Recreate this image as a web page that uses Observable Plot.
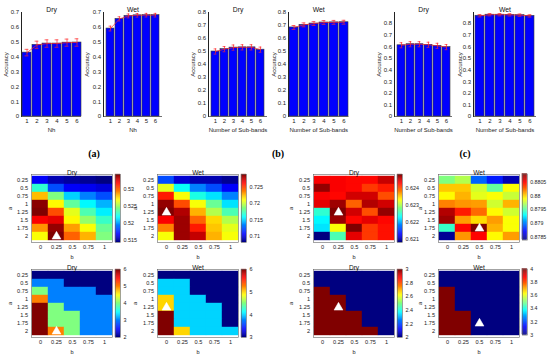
<!DOCTYPE html>
<html><head><meta charset="utf-8">
<script src="https://cdn.jsdelivr.net/npm/d3@7"></script>
<script src="https://cdn.jsdelivr.net/npm/@observablehq/plot@0.6"></script>
<style>
body{margin:0;background:#fff;}
#fig{position:relative;width:554px;height:359px;overflow:hidden;background:#fff;font-family:"Liberation Sans",Arial,sans-serif;}
.p{position:absolute;}
.p svg{overflow:visible;display:block;}
.lab{position:absolute;font-family:"Liberation Serif","Times New Roman",serif;font-weight:bold;font-size:10px;transform:translate(-50%,-50%);white-space:nowrap;}
</style></head><body><div id="fig"></div>
<script>
// ---------- data ----------
const barLabels = ["1", "2", "3", "4", "5", "6"];

const accDryA = [0.430, 0.482, 0.491, 0.491, 0.497, 0.498];
const errDryA = [0.022, 0.025, 0.025, 0.025, 0.024, 0.025];
const accWetA = [0.592, 0.657, 0.677, 0.681, 0.682, 0.682];
const errWetA = [0.016, 0.014, 0.013, 0.012, 0.012, 0.012];
const accDryB = [0.500, 0.518, 0.530, 0.532, 0.532, 0.514];
const errDryB = [0.020, 0.020, 0.020, 0.020, 0.020, 0.020];
const accWetB = [0.685, 0.705, 0.715, 0.723, 0.724, 0.725];
const errWetB = [0.015, 0.015, 0.015, 0.015, 0.015, 0.015];
const accDryC = [0.613, 0.622, 0.622, 0.617, 0.608, 0.597];
const errDryC = [0.022, 0.022, 0.022, 0.022, 0.022, 0.022];
const accWetC = [0.867, 0.876, 0.876, 0.875, 0.872, 0.866];
const errWetC = [0.010, 0.010, 0.010, 0.010, 0.010, 0.010];

const ticks07 = [0, 0.1, 0.2, 0.3, 0.4, 0.5, 0.6, 0.7];
const ticks08 = [0, 0.1, 0.2, 0.3, 0.4, 0.5, 0.6, 0.7, 0.8];

const aLevels = ["0.25", "0.5", "0.75", "1", "1.25", "1.5", "1.75", "2"];
const bLevels = ["0", "0.25", "0.5", "0.75", "1"];

// accuracy grids (rows = a, cols = b)
const gridDryA = [
  [0.5168, 0.5154, 0.5150, 0.5148, 0.5144],
  [0.5228, 0.5184, 0.5168, 0.5166, 0.5162],
  [0.5282, 0.5244, 0.5210, 0.5194, 0.5184],
  [0.5342, 0.5270, 0.5238, 0.5218, 0.5204],
  [0.5344, 0.5304, 0.5264, 0.5234, 0.5216],
  [0.5320, 0.5324, 0.5270, 0.5248, 0.5230],
  [0.5290, 0.5340, 0.5288, 0.5268, 0.5240],
  [0.5268, 0.5344, 0.5300, 0.5284, 0.5244]
];
const gridWetB = [
  [0.7123, 0.7099, 0.7092, 0.7092, 0.7086],
  [0.7206, 0.7161, 0.7134, 0.7123, 0.7107],
  [0.7258, 0.7210, 0.7165, 0.7154, 0.7134],
  [0.7285, 0.7248, 0.7210, 0.7181, 0.7154],
  [0.7289, 0.7279, 0.7227, 0.7196, 0.7175],
  [0.7264, 0.7283, 0.7243, 0.7219, 0.7196],
  [0.7237, 0.7283, 0.7258, 0.7223, 0.7206],
  [0.7210, 0.7283, 0.7275, 0.7227, 0.7210]
];
const gridDryC = [
  [0.62432, 0.62432, 0.62428, 0.62428, 0.62452],
  [0.62472, 0.62432, 0.62428, 0.62408, 0.62420],
  [0.62432, 0.62428, 0.62448, 0.62448, 0.62400],
  [0.62440, 0.62468, 0.62392, 0.62460, 0.62448],
  [0.62248, 0.62480, 0.62448, 0.62400, 0.62472],
  [0.62228, 0.62470, 0.62428, 0.62440, 0.62428],
  [0.62220, 0.62328, 0.62480, 0.62408, 0.62424],
  [0.62080, 0.62260, 0.62440, 0.62408, 0.62424]
];
const gridWetC = [
  [0.87960, 0.87972, 0.87893, 0.87876, 0.87852],
  [0.88003, 0.88003, 0.87979, 0.87953, 0.87989],
  [0.87991, 0.88008, 0.87984, 0.87989, 0.87977],
  [0.88020, 0.88015, 0.88013, 0.87979, 0.88008],
  [0.88068, 0.88044, 0.88025, 0.87991, 0.87979],
  [0.88073, 0.88013, 0.87998, 0.88013, 0.87989],
  [0.87943, 0.88049, 0.88080, 0.88008, 0.87989],
  [0.87845, 0.88015, 0.88049, 0.87991, 0.88013]
];
// optimal number of sub-bands grids
const bandsDryA = [
  [2, 2, 2, 2, 2],
  [3, 3, 2, 2, 2],
  [4, 3, 3, 3, 2],
  [5, 3, 3, 3, 3],
  [6, 4, 3, 3, 3],
  [6, 4, 4, 3, 3],
  [6, 4, 4, 3, 3],
  [6, 5, 4, 3, 3]
];
const bandsWetB = [
  [3, 3, 3, 3, 3],
  [4, 4, 3, 3, 3],
  [4, 4, 3, 3, 3],
  [5, 4, 4, 3, 3],
  [5, 4, 4, 4, 3],
  [6, 4, 4, 4, 3],
  [6, 4, 4, 4, 3],
  [6, 5, 4, 4, 4]
];
const bandsDryC = [
  [2, 2, 2, 2, 2],
  [2, 2, 2, 2, 2],
  [3, 2, 2, 2, 2],
  [3, 3, 2, 2, 2],
  [3, 3, 2, 2, 2],
  [3, 3, 3, 2, 2],
  [3, 3, 3, 2, 2],
  [3, 3, 3, 3, 2]
];
const bandsWetC = [
  [3, 3, 3, 3, 3],
  [3, 3, 3, 3, 3],
  [4, 3, 3, 3, 3],
  [4, 3, 3, 3, 3],
  [4, 3, 3, 3, 3],
  [4, 4, 3, 3, 3],
  [4, 4, 3, 3, 3],
  [4, 4, 3, 3, 3]
];
// best (a, b) markers
const bestDryA = ["2", "0.25"];
const bestWetB = ["1.25", "0"];
const bestDryC = ["1.25", "0.25"];
const bestWetC = ["1.75", "0.5"];

const cbDomDryA = [0.5144, 0.5344], cbTicksDryA = [0.515, 0.52, 0.525, 0.53];
const cbDomWetB = [0.7082, 0.7289], cbTicksWetB = [0.71, 0.715, 0.72, 0.725];
const cbDomDryC = [0.6208, 0.6248], cbTicksDryC = [0.621, 0.622, 0.623, 0.624];
const cbDomWetC = [0.8784, 0.8808], cbTicksWetC = [0.8785, 0.879, 0.8795, 0.88, 0.8805];
const cbDomB1 = [2, 6], cbTicksB1 = [2, 3, 4, 5, 6];
const cbDomB2 = [3, 6], cbTicksB2 = [3, 4, 5, 6];
const cbDomB3 = [2, 3], cbTicksB3 = [2, 2.2, 2.4, 2.6, 2.8, 3];
const cbDomB4 = [3, 4], cbTicksB4 = [3, 3.2, 3.4, 3.6, 3.8, 4];

// ---------- helpers ----------
const FONT = "Liberation Sans, Arial, sans-serif";
function jet(t) {
  const c = v => Math.round(255 * Math.max(0, Math.min(1, v)));
  return `rgb(${c(Math.min(4 * t - 1.5, -4 * t + 4.5))},${c(Math.min(4 * t - 0.5, -4 * t + 3.5))},${c(Math.min(4 * t + 0.5, -4 * t + 2.5))})`;
}
const fig = document.getElementById("fig");
function place(node, left, top) {
  const d = document.createElement("div");
  d.className = "p"; d.style.left = left + "px"; d.style.top = top + "px";
  d.appendChild(node); fig.appendChild(d);
}
function label(txt, x, y) {
  const d = document.createElement("div");
  d.className = "lab"; d.textContent = txt; d.style.left = x + "px"; d.style.top = y + "px";
  fig.appendChild(d);
}

function barChart({values, errors, yMax, yTicks, title, xLabel, frameLeft, plotWidth, yLabelOffset}) {
  const rows = values.map((v, i) => ({k: barLabels[i], v, e: errors[i]}));
  const mL = 21, mR = 3, mT = 12, mB = 19;
  const red = "#ff2a2a";
  const chart = Plot.plot({
    width: mL + plotWidth + mR, height: 135,
    marginLeft: mL, marginRight: mR, marginTop: mT, marginBottom: mB,
    style: {background: "transparent", fontFamily: FONT, fontSize: "6px", color: "#222"},
    x: {domain: barLabels, paddingInner: 0.13, paddingOuter: 0.05, tickSize: 0, tickPadding: 2,
        label: xLabel, labelAnchor: "center", labelOffset: 15, labelArrow: "none"},
    y: {domain: [0, yMax], ticks: yTicks, tickFormat: "~g", tickSize: 0, tickPadding: 2.5, line: true,
        label: "Accuracy", labelAnchor: "center", labelOffset: yLabelOffset, labelArrow: "none"},
    marks: [
      Plot.barY(rows, {x: "k", y: "v", fill: "#0000ff", stroke: "#3a3a3a", strokeWidth: 0.6}),
      Plot.ruleX(rows, {x: "k", y1: d => d.v - d.e, y2: d => d.v + d.e, stroke: red, strokeWidth: 0.7}),
      Plot.tickY(rows, {x: "k", y: d => d.v - d.e, stroke: red, strokeWidth: 0.7, inset: 2.6}),
      Plot.tickY(rows, {x: "k", y: d => d.v + d.e, stroke: red, strokeWidth: 0.7, inset: 2.6}),
      Plot.line(rows, {x: "k", y: "v", stroke: red, strokeWidth: 0.7}),
      Plot.ruleY([0], {stroke: "#333", strokeWidth: 0.7}),
      Plot.text([title], {text: d => d, frameAnchor: "top", dy: -5, fontSize: 6.8, fill: "#111"})
    ]
  });
  place(chart, frameLeft - mL, 0);
}

function heatmap({grid, domain, best, title, frameLeft, top, aOffset}) {
  const cells = [];
  aLevels.forEach((a, i) => bLevels.forEach((b, j) => cells.push({a, b, v: grid[i][j]})));
  const mL = 30, mR = 2, mT = 16, mB = 19, pw = 81;
  const chart = Plot.plot({
    width: mL + pw + mR, height: 103,
    marginLeft: mL, marginRight: mR, marginTop: mT, marginBottom: mB,
    style: {background: "transparent", fontFamily: FONT, fontSize: "5.6px", color: "#222"},
    x: {domain: bLevels, padding: 0, tickSize: 0, tickPadding: 2.5,
        label: "b", labelAnchor: "center", labelOffset: 16.5, labelArrow: "none"},
    y: {domain: aLevels, padding: 0, tickSize: 0, tickPadding: 3.5,
        label: "a", labelAnchor: "center", labelOffset: aOffset, labelArrow: "none"},
    color: {type: "linear", domain, interpolate: jet, clamp: true},
    marks: [
      Plot.cell(cells, {x: "b", y: "a", fill: "v", stroke: "v", strokeWidth: 0.4}),
      Plot.dot([best], {x: d => d[1], y: d => d[0], symbol: "triangle", fill: "white", stroke: "white", strokeWidth: 0.5, r: 3.3}),
      Plot.frame({stroke: "#666", strokeWidth: 0.6}),
      Plot.text([title], {text: d => d, frameAnchor: "top", dy: -4, fontSize: 6.6, fill: "#111"})
    ]
  });
  place(chart, frameLeft - mL, top);
}

function colorbar({domain, ticks, frameLeft, top}) {
  const [lo, hi] = domain, n = 64;
  const steps = d3.range(n).map(i => ({y1: lo + (hi - lo) * i / n, y2: lo + (hi - lo) * (i + 1) / n}));
  const mL = 2, mR = 28, mT = 16, mB = 19;
  const chart = Plot.plot({
    width: mL + 5 + mR, height: 103,
    marginLeft: mL, marginRight: mR, marginTop: mT, marginBottom: mB,
    style: {background: "transparent", fontFamily: FONT, fontSize: "5.4px", color: "#222"},
    x: {domain: [0, 1], axis: null},
    y: {domain, ticks, tickFormat: "~g", axis: "right", tickSize: 0, tickPadding: 3, label: null},
    color: {type: "linear", domain, interpolate: jet},
    marks: [
      Plot.rect(steps, {x1: d => 0, x2: d => 1, y1: "y1", y2: "y2", fill: d => (d.y1 + d.y2) / 2, stroke: d => (d.y1 + d.y2) / 2, strokeWidth: 0.3}),
      Plot.frame({stroke: "#666", strokeWidth: 0.6})
    ]
  });
  place(chart, frameLeft - mL, top);
}

// ---------- bar charts ----------
barChart({values: accDryA, errors: errDryA, yMax: 0.7, yTicks: ticks07, title: "Dry", xLabel: "Nh", frameLeft: 21, plotWidth: 60, yLabelOffset: 17.5});
barChart({values: accWetA, errors: errWetA, yMax: 0.7, yTicks: ticks07, title: "Wet", xLabel: "Nh", frameLeft: 103, plotWidth: 59, yLabelOffset: 18.5});
barChart({values: accDryB, errors: errDryB, yMax: 0.8, yTicks: ticks08, title: "Dry", xLabel: "Number of Sub-bands", frameLeft: 208, plotWidth: 59, yLabelOffset: 18});
barChart({values: accWetB, errors: errWetB, yMax: 0.8, yTicks: ticks08, title: "Wet", xLabel: "Number of Sub-bands", frameLeft: 287.5, plotWidth: 60.5, yLabelOffset: 16.5});
barChart({values: accDryC, errors: errDryC, yMax: 0.895, yTicks: ticks08, title: "Dry", xLabel: "Number of Sub-bands", frameLeft: 394, plotWidth: 58, yLabelOffset: 17.5});
barChart({values: accWetC, errors: errWetC, yMax: 0.895, yTicks: ticks08, title: "Wet", xLabel: "Number of Sub-bands", frameLeft: 473, plotWidth: 63, yLabelOffset: 16});

label("(a)", 94, 153);
label("(b)", 278, 153);
label("(c)", 465, 153);

// ---------- heatmaps ----------
const topRow = 158, botRow = 253;
heatmap({grid: gridDryA, domain: cbDomDryA, best: bestDryA, title: "Dry", frameLeft: 31, top: topRow, aOffset: 23});
colorbar({domain: cbDomDryA, ticks: cbTicksDryA, frameLeft: 115, top: topRow});
heatmap({grid: gridWetB, domain: cbDomWetB, best: bestWetB, title: "Wet", frameLeft: 157, top: topRow, aOffset: 24});
colorbar({domain: cbDomWetB, ticks: cbTicksWetB, frameLeft: 241, top: topRow});
heatmap({grid: gridDryC, domain: cbDomDryC, best: bestDryC, title: "Dry", frameLeft: 313, top: topRow, aOffset: 24});
colorbar({domain: cbDomDryC, ticks: cbTicksDryC, frameLeft: 397, top: topRow});
heatmap({grid: gridWetC, domain: cbDomWetC, best: bestWetC, title: "Wet", frameLeft: 438, top: topRow, aOffset: 20});
colorbar({domain: cbDomWetC, ticks: cbTicksWetC, frameLeft: 522, top: topRow});

heatmap({grid: bandsDryA, domain: cbDomB1, best: bestDryA, title: "Dry", frameLeft: 31, top: botRow, aOffset: 23});
colorbar({domain: cbDomB1, ticks: cbTicksB1, frameLeft: 115, top: botRow});
heatmap({grid: bandsWetB, domain: cbDomB2, best: bestWetB, title: "Wet", frameLeft: 157, top: botRow, aOffset: 24});
colorbar({domain: cbDomB2, ticks: cbTicksB2, frameLeft: 241, top: botRow});
heatmap({grid: bandsDryC, domain: cbDomB3, best: bestDryC, title: "Dry", frameLeft: 313, top: botRow, aOffset: 24});
colorbar({domain: cbDomB3, ticks: cbTicksB3, frameLeft: 397, top: botRow});
heatmap({grid: bandsWetC, domain: cbDomB4, best: bestWetC, title: "Wet", frameLeft: 438, top: botRow, aOffset: 20});
colorbar({domain: cbDomB4, ticks: cbTicksB4, frameLeft: 522, top: botRow});
</script></body></html>
